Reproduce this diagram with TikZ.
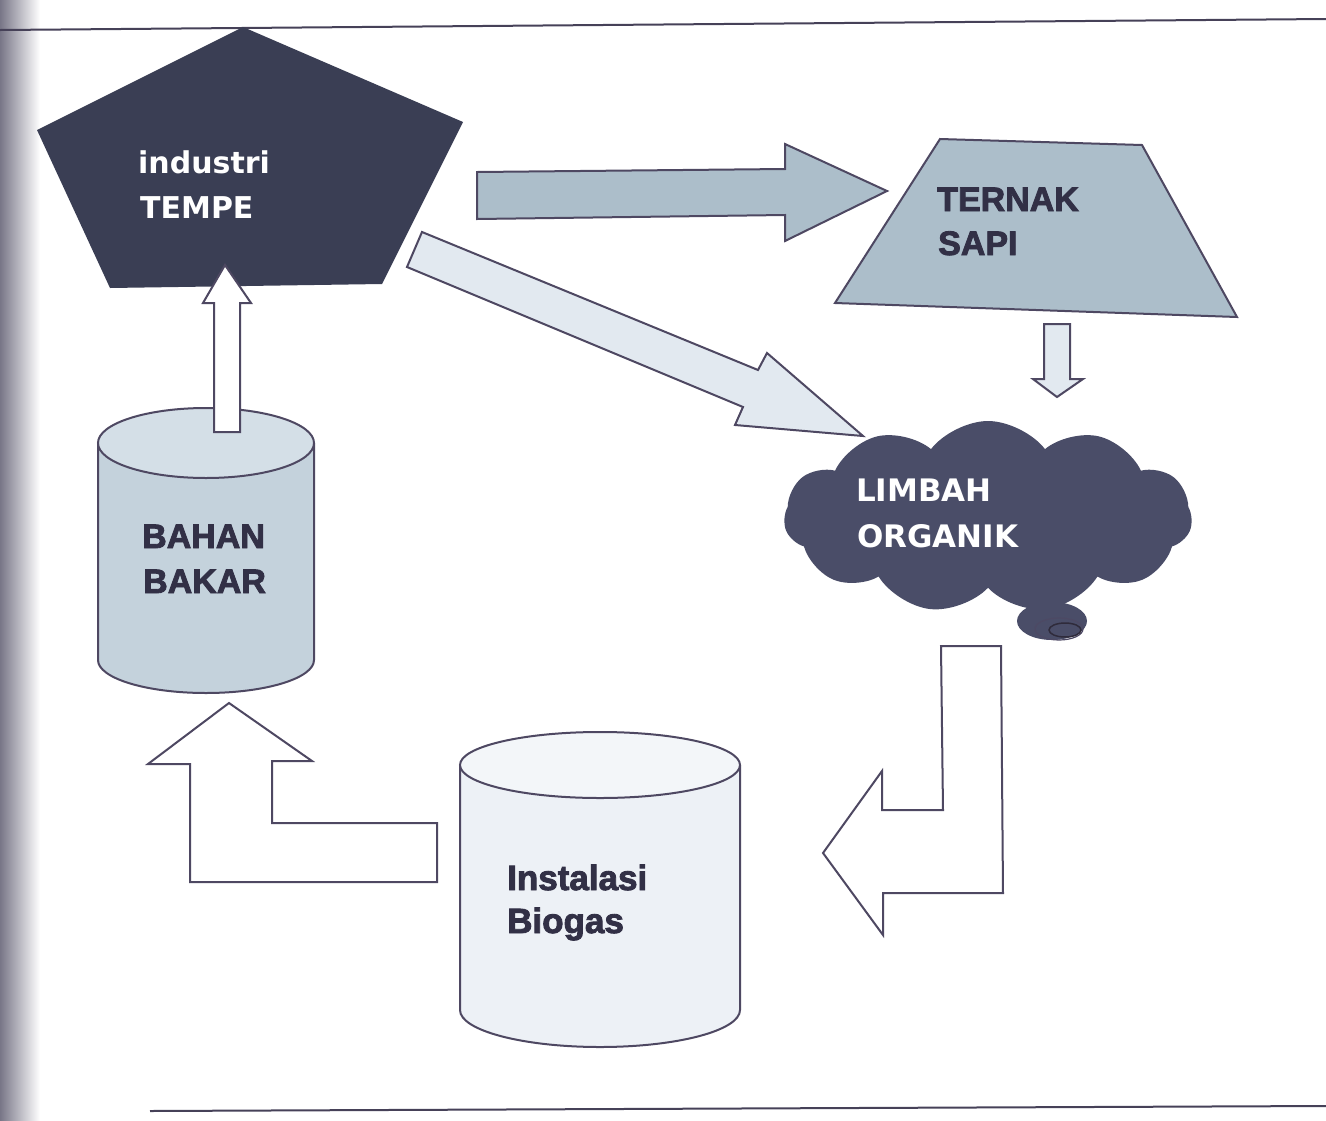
\documentclass[tikz,border=0pt]{standalone}
\usepackage{fontspec}
\setmainfont{Liberation Sans}
\newfontfamily\lightfont{DejaVu Sans}
\newfontfamily\darkfont{Liberation Sans}[BoldFeatures={FakeBold=2.5}]
\usetikzlibrary{shapes.symbols}
\definecolor{navy}{RGB}{58,62,84}
\definecolor{cloudc}{RGB}{74,77,104}
\definecolor{midblue}{RGB}{172,190,202}
\definecolor{cylbody}{RGB}{196,210,220}
\definecolor{cyltop}{RGB}{212,223,231}
\definecolor{paleblue}{RGB}{226,233,240}
\definecolor{palecyl}{RGB}{237,241,246}
\definecolor{palecyltop}{RGB}{243,246,249}
\definecolor{edge}{RGB}{78,72,98}
\definecolor{darktext}{RGB}{50,48,70}
\definecolor{scan}{RGB}{120,118,135}
\tikzset{
  outline/.style={draw=edge, line width=2pt, line join=miter},
  rule/.style={draw=edge!90!black, line width=2pt},
  whitelabel/.style={inner sep=0pt, anchor=base west, text=white, font=\lightfont\bfseries\fontsize{30}{36}\selectfont},
  darklabel/.style={inner sep=0pt, anchor=base west, text=darktext, font=\darkfont\bfseries\fontsize{34}{40}\selectfont},
}
\begin{document}
\begin{tikzpicture}[x=1pt,y=-1pt]
\useasboundingbox (0,0) rectangle (1326,1120);
\fill[white] (0,0) rectangle (1326,1120);
\shade[left color=scan, right color=white] (0,0) rectangle (40,1120);
% page rules
\coordinate (ruleTL) at (0,30);
\coordinate (ruleTR) at (1326,19);
\coordinate (ruleBL) at (150,1111);
\coordinate (ruleBR) at (1326,1106);
\draw[rule] (ruleTL) -- (ruleTR);
\draw[rule] (ruleBL) -- (ruleBR);

% industri TEMPE pentagon
\fill[navy] (243,27) -- (463,122) -- (382,284) -- (110,288) -- (37,130) -- cycle;
\coordinate (tempe) at (250,180);
\node[whitelabel] (tempeA) at (138,173) {industri};
\node[whitelabel] (tempeB) at (140,218) {TEMPE};

% arrow TEMPE -> TERNAK
\draw[outline, fill=midblue] (477,172) -- (785,169) -- (785,144) -- (887,191) coordinate (tipH)
  -- (785,241) -- (785,215) -- (477,219) -- cycle;

% arrow TEMPE -> LIMBAH
\draw[outline, fill=paleblue] (422,232) -- (758,370) -- (767,353) -- (863,436) coordinate (tipD)
  -- (735,425) -- (743,407) -- (407,267) -- cycle;

% TERNAK SAPI trapezoid
\draw[outline, fill=midblue] (940,139) -- (1142,145) -- (1237,317) -- (835,303) -- cycle;
\coordinate (ternak) at (1036,228);
\node[darklabel] (ternakA) at (937,211) {TERNAK};
\node[darklabel] (ternakB) at (938,255) {SAPI};

% arrow TERNAK -> LIMBAH
\draw[outline, fill=paleblue] (1044,324) -- (1070,324) -- (1070,379) -- (1083,379)
  -- (1057,397) coordinate (tipV) -- (1033,379) -- (1044,379) -- cycle;

% LIMBAH ORGANIK cloud
\node[cloud, cloud puffs=11, cloud puff arc=105, aspect=2.2, fill=cloudc,
      minimum width=408pt, minimum height=192pt, inner sep=0pt] (limbah) at (988,517) {};
\fill[cloudc] (1052,621) ellipse [x radius=35, y radius=19];
\draw[edge!70!cloudc, line width=1.2pt] (1059,629) ellipse [x radius=24, y radius=11];
\draw[edge!60!black, line width=1.5pt] (1065,630) ellipse [x radius=16, y radius=7];
\node[whitelabel, font=\lightfont\bfseries\fontsize{31}{36}\selectfont] (limbahA) at (856,501) {LIMBAH};
\node[whitelabel, font=\lightfont\bfseries\fontsize{31}{36}\selectfont] (limbahB) at (857,547) {ORGANIK};

% BAHAN BAKAR cylinder
\fill[cylbody] (98,443) -- (98,660) arc[start angle=180, end angle=0, x radius=108, y radius=33] -- (314,443) -- cycle;
\draw[outline] (98,443) -- (98,660) arc[start angle=180, end angle=0, x radius=108, y radius=33] -- (314,443);
\draw[outline, fill=cyltop] (206,443) ellipse [x radius=108, y radius=35];
\coordinate (bahan) at (206,560);
\node[darklabel] (bahanA) at (142,548) {BAHAN};
\node[darklabel] (bahanB) at (143,593) {BAKAR};

% arrow BAHAN -> TEMPE
\draw[outline, fill=white] (214,432) -- (214,303) -- (203,303) -- (225,265) coordinate (tipU)
  -- (251,303) -- (240,303) -- (240,432) -- cycle;

% Instalasi Biogas cylinder
\fill[palecyl] (460,765) -- (460,1010) arc[start angle=180, end angle=0, x radius=140, y radius=37] -- (740,765) -- cycle;
\draw[outline] (460,765) -- (460,1010) arc[start angle=180, end angle=0, x radius=140, y radius=37] -- (740,765);
\draw[outline, fill=palecyltop] (600,765) ellipse [x radius=140, y radius=33];
\coordinate (biogas) at (600,900);
\node[darklabel, font=\darkfont\bfseries\fontsize{35}{40}\selectfont] (biogasA) at (507,890) {Instalasi};
\node[darklabel, font=\darkfont\bfseries\fontsize{35}{40}\selectfont] (biogasB) at (507,933) {Biogas};

% bent arrow LIMBAH -> Biogas
\draw[outline, fill=white] (941,646) -- (1001,646) -- (1003,893) -- (883,893) -- (883,935)
  -- (823,853) coordinate (tipR) -- (882,771) -- (882,810) -- (943,810) -- cycle;

% bent arrow Biogas -> BAHAN
\draw[outline, fill=white] (437,823) -- (437,882) -- (190,882) -- (190,764) -- (148,764)
  -- (229,703) coordinate (tipL) -- (312,761) -- (272,761) -- (272,823) -- cycle;
\end{tikzpicture}
\end{document}
